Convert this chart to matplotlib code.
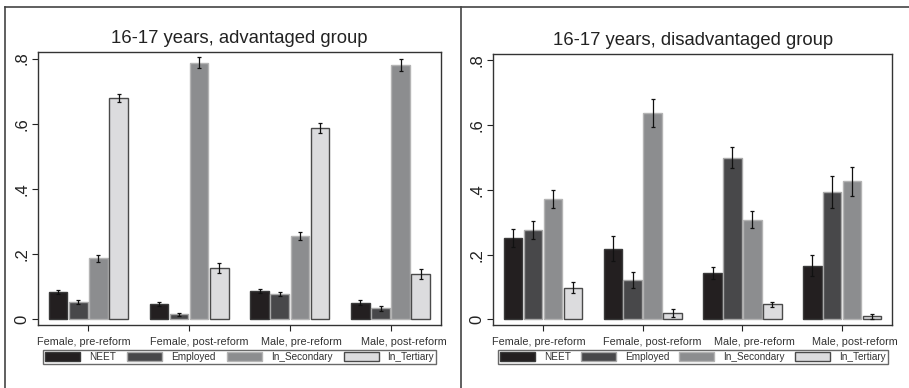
import matplotlib
matplotlib.use("Agg")
import matplotlib.pyplot as plt
import numpy as np
from matplotlib.lines import Line2D
from matplotlib.patches import Patch

plt.rcParams['font.family'] = ['Liberation Sans', 'DejaVu Sans']

# data
groups = ["Female, pre-reform", "Female, post-reform", "Male, pre-reform", "Male, post-reform"]
series = ["NEET", "Employed", "In_Secondary", "In_Tertiary"]

adv_vals = [
    [0.084, 0.047, 0.086, 0.051],   # NEET
    [0.052, 0.015, 0.077, 0.034],   # Employed
    [0.187, 0.787, 0.255, 0.780],   # In_Secondary
    [0.679, 0.157, 0.587, 0.138],   # In_Tertiary
]
adv_err = [
    [0.005, 0.006, 0.006, 0.007],
    [0.006, 0.004, 0.006, 0.008],
    [0.010, 0.017, 0.012, 0.017],
    [0.012, 0.016, 0.014, 0.015],
]
dis_vals = [
    [0.252, 0.218, 0.144, 0.166],
    [0.276, 0.122, 0.500, 0.394],
    [0.373, 0.638, 0.308, 0.426],
    [0.098, 0.019, 0.047, 0.009],
]
dis_err = [
    [0.027, 0.038, 0.018, 0.032],
    [0.027, 0.025, 0.031, 0.049],
    [0.028, 0.044, 0.026, 0.046],
    [0.017, 0.012, 0.008, 0.008],
]
titles = ["16-17 years, advantaged group", "16-17 years, disadvantaged group"]
yticks = [0, 0.2, 0.4, 0.6, 0.8]
ytick_labels = ["0", ".2", ".4", ".6", ".8"]

fills = ["#231f20", "#48484a", "#8c8d8f", "#dcdcde"]
edges = ["#3a3a3a", "#a8a8a8", "#b4b4b4", "#4a4a4a"]
# group labels sit a bit off their ticks in the original (points)
label_shift = [-3.2, 7.2, 8.6, 9.4]

fig = plt.figure(figsize=(9.09, 3.88), dpi=100)
ax1 = fig.add_axes([0.0418, 0.1624, 0.4433, 0.7036])
ax2 = fig.add_axes([0.5424, 0.1624, 0.4390, 0.6985])

x = np.arange(len(groups))
slot = 0.2
width = 0.185

for ax, vals, errs, title in [(ax1, adv_vals, adv_err, titles[0]),
                              (ax2, dis_vals, dis_err, titles[1])]:
    for i in range(len(series)):
        pos = x + (i - 1.5) * slot
        ax.bar(pos, vals[i], width, color=fills[i], edgecolor=edges[i], linewidth=1.0)
        ax.errorbar(pos, vals[i], yerr=errs[i], fmt='none', ecolor='#111111',
                    elinewidth=0.9, capsize=1.6, capthick=0.9)
    ax.set_xlim(-0.5, 3.5)
    ax.set_ylim(-0.0175, 0.82)
    ax.set_yticks(yticks)
    ax.set_yticklabels(ytick_labels, rotation=90, va='center', fontsize=12)
    ax.set_xticks(x)
    ax.set_xticklabels([])
    for xi, g, dx in zip(x, groups, label_shift):
        ax.annotate(g, xy=(xi, 0), xycoords=('data', 'axes fraction'),
                    xytext=(dx, -8.5), textcoords='offset points',
                    ha='center', va='top', fontsize=7.8, color='#333333')
    ax.tick_params(axis='x', length=4, width=0.8, colors='#222222')
    ax.tick_params(axis='y', length=4, width=0.8, pad=2, colors='#222222')
    for s in ax.spines.values():
        s.set_color('#333333')
        s.set_linewidth(1.0)
    ax.set_title(title, fontsize=13.3, pad=6.5, color='#222222')

    handles = [Patch(facecolor=fills[i], edgecolor=edges[i], label=series[i]) for i in range(len(series))]
    pos = ax.get_position()
    leg = fig.legend(handles=handles, loc='lower left', ncol=4, mode='expand',
                     bbox_to_anchor=(pos.x0 + 0.005, 0.061, pos.width - 0.01, 0.04),
                     fontsize=7.2, handlelength=3.5, handleheight=0.95,
                     handletextpad=0.9, borderpad=0.22, columnspacing=1.0,
                     frameon=True, fancybox=False, borderaxespad=0)
    leg.get_frame().set_edgecolor('#444444')
    leg.get_frame().set_linewidth(1.0)
    for t in leg.get_texts():
        t.set_color('#333333')

# outer panel frame lines
fig.add_artist(Line2D([5 / 909, 1], [1 - 7 / 388, 1 - 7 / 388], color='#444444', lw=1.2))
fig.add_artist(Line2D([5 / 909, 5 / 909], [0, 1 - 7 / 388], color='#444444', lw=1.2))
fig.add_artist(Line2D([461 / 909, 461 / 909], [0, 1 - 7 / 388], color='#444444', lw=1.2))

fig.savefig("out.png", dpi=100)
